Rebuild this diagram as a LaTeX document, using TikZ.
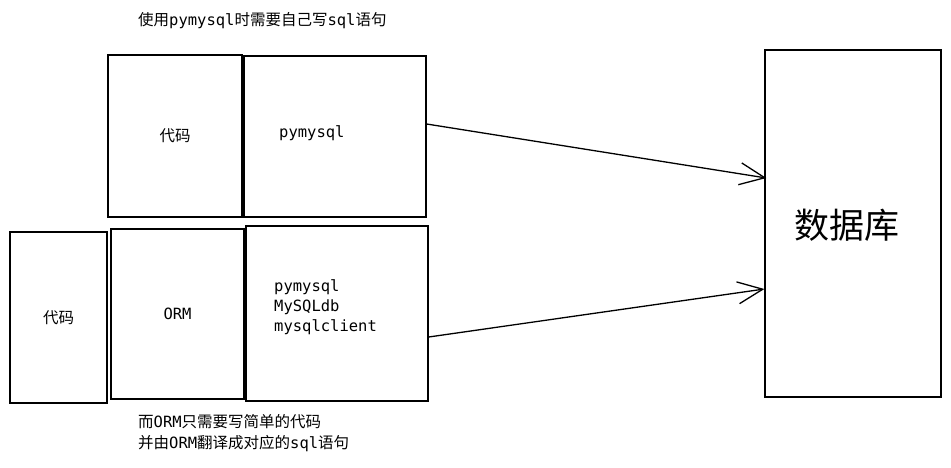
\documentclass[tikz,border=0pt]{standalone}
\usepackage{fontspec}
\setmainfont{Noto Sans CJK SC}
\setmonofont{DejaVu Sans Mono}
\usetikzlibrary{arrows.meta,calc}
\newcommand{\mt}[1]{{\ttfamily #1}}
\begin{document}
\begin{tikzpicture}[x=1pt,y=-1pt,
  box/.style={draw=black,line width=1.3pt,rectangle,inner sep=0pt,font=\fontsize{15.5}{20}\selectfont},
  txt/.style={inner sep=0pt,font=\fontsize{15.5}{20}\selectfont},
  conn/.style={draw=black,line width=1.3pt,-{Straight Barb[length=25pt,width=22pt]}}]
\path[use as bounding box,fill=white] (0,0) rectangle (951,467);
% top row
\node[box,minimum width=134pt,minimum height=162pt] (c1) at (175,136) {代码};
\node[box,minimum width=182pt,minimum height=161pt] (p1) at (335,136.5) {};
\node[txt,anchor=west] (p1t) at (279,133) {\mt{pymysql}};
% bottom row
\node[box,minimum width=97pt,minimum height=171pt] (c2) at (58.5,317.5) {代码};
\node[box,minimum width=133pt,minimum height=170pt] (orm) at (177.5,314) {\mt{ORM}};
\node[box,minimum width=182pt,minimum height=175pt] (p2) at (337,313.5) {};
\node[txt,anchor=north west,align=left] (p2t) at (274,279) {\mt{pymysql}\\\mt{MySQLdb}\\\mt{mysqlclient}};
% database
\node[box,minimum width=176pt,minimum height=347pt] (db) at (853,223.5) {};
\node[txt,font=\fontsize{35}{40}\selectfont] (dbt) at (847,225) {数据库};
% notes
\node[txt,anchor=west] (n1) at (138,21) {使用\mt{pymysql}时需要自己写\mt{sql}语句};
\node[txt,anchor=north west,align=left,font=\fontsize{15.5}{21}\selectfont] (n2) at (138,414) {而\mt{ORM}只需要写简单的代码\\并由\mt{ORM}翻译成对应的\mt{sql}语句};
% connectors
\draw[conn] ($(p1.east)+(0,-12.5)$) -- ($(db.west)+(2,-45.5)$);
\draw[conn] ($(p2.east)+(0,23.5)$) -- ($(db.west)+(0,65.5)$);
\end{tikzpicture}
\end{document}
